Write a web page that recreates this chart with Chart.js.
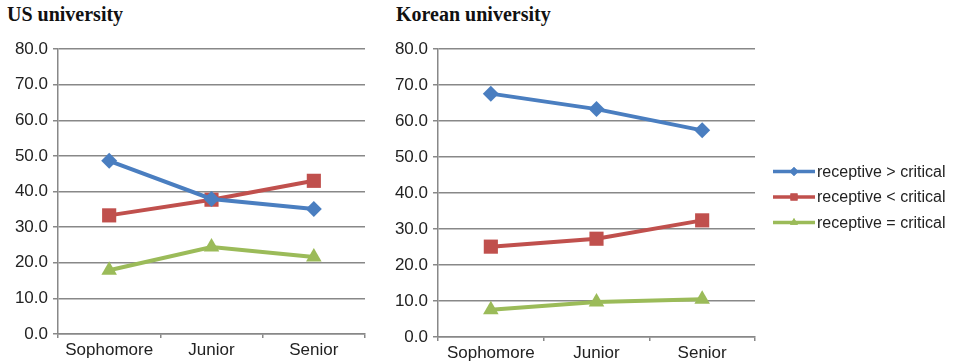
<!DOCTYPE html>
<html>
<head>
<meta charset="utf-8">
<script src="https://cdn.jsdelivr.net/npm/chart.js@4.4.0/dist/chart.umd.min.js"></script>
<style>
  body { margin: 0; background: #fff; width: 954px; height: 361px; position: relative; overflow: hidden; }
  .ttl { position: absolute; top: 3px; font: bold 20px "Liberation Serif", "DejaVu Serif", serif; color: #111; }
  .box { position: absolute; top: 0; height: 361px; }
</style>
</head>
<body>
<div class="ttl" style="left:7px">US university</div>
<div class="ttl" style="left:396px">Korean university</div>
<div class="box" style="left:0; width:376px"><canvas id="usChart"></canvas></div>
<div class="box" style="left:380px; width:574px"><canvas id="krChart"></canvas></div>
<script>
// values
const years = ['Sophomore', 'Junior', 'Senior']
const seriesNames = ['receptive > critical', 'receptive < critical', 'receptive = critical']

const usGreater = [48.6, 37.9, 35.1]
const usLess = [33.3, 37.7, 43.0]
const usEqual = [17.9, 24.4, 21.6]

const krGreater = [67.6, 63.3, 57.4]
const krLess = [25.1, 27.3, 32.4]
const krEqual = [7.6, 9.7, 10.5]

const colors = ['#4a7ec0', '#c0504d', '#9bbb59']
const markers = ['rectRot', 'rect', 'triangle']
const markerSize = [8, 10, 9]

function makeSets(vals) {
    return vals.map((v, i) => ({
        label: seriesNames[i],
        data: v,
        borderColor: colors[i],
        backgroundColor: colors[i],
        borderWidth: 4,
        pointStyle: markers[i],
        pointRadius: markerSize[i],
        pointBorderWidth: 0,
        pointBackgroundColor: colors[i],
        tension: 0
    }))
}

const fontFamily = '"Liberation Sans", Arial, sans-serif'
const tickFont = { family: fontFamily, size: 17 }

// excel style legend to the right of the plot: line with a small marker in the middle
const sideLegend = {
    id: 'sideLegend',
    afterDraw(chart, args, opts) {
        if (!opts.show) return
        const ctx = chart.ctx
        const area = chart.chartArea
        const x0 = area.right + 18
        const midY = (area.top + area.bottom) / 2 + 4
        chart.data.datasets.forEach((ds, i) => {
            const y = midY + (i - 1) * 25.5
            ctx.save()
            ctx.strokeStyle = colors[i]
            ctx.lineWidth = 3.5
            ctx.beginPath()
            ctx.moveTo(x0, y)
            ctx.lineTo(x0 + 42, y)
            ctx.stroke()
            ctx.fillStyle = colors[i]
            Chart.helpers.drawPoint(ctx, { pointStyle: markers[i], radius: i == 1 ? 5 : 4.5, borderWidth: 0 }, x0 + 21, y)
            ctx.fill()
            ctx.fillStyle = '#222'
            ctx.font = '16px ' + fontFamily
            ctx.textBaseline = 'middle'
            ctx.fillText(ds.label, x0 + 44, y + 1)
            ctx.restore()
        })
    }
}

function makeChart(id, vals, showLegend) {
    return new Chart(document.getElementById(id), {
        type: 'line',
        data: { labels: years, datasets: makeSets(vals) },
        plugins: [sideLegend],
        options: {
            responsive: true,
            maintainAspectRatio: false,
            animation: false,
            layout: { padding: { top: 49, right: showLegend ? 199 : 11, left: 0, bottom: 0 } },
            plugins: {
                title: { display: false },
                tooltip: { enabled: false },
                legend: { display: false },
                sideLegend: { show: showLegend }
            },
            scales: {
                x: {
                    offset: true,
                    grid: { offset: true, drawOnChartArea: false, drawTicks: true, tickLength: 4, color: '#888', lineWidth: 1.5 },
                    border: { display: true, color: '#888', width: 1.5 },
                    ticks: { color: '#222', font: tickFont, padding: 2, maxRotation: 0 },
                    afterFit: s => { s.height = showLegend ? 24 : 27 }
                },
                y: {
                    min: 0,
                    max: 80,
                    grid: { color: '#888', lineWidth: 1.5, drawTicks: true, tickLength: 5 },
                    border: { display: true, color: '#888', width: 1.5 },
                    ticks: {
                        stepSize: 10,
                        color: '#222',
                        font: tickFont,
                        padding: 5,
                        callback: v => v.toFixed(1)
                    },
                    afterFit: s => { s.width = 58 }
                }
            }
        }
    })
}

makeChart('usChart', [usGreater, usLess, usEqual], false)
makeChart('krChart', [krGreater, krLess, krEqual], true)
</script>
</body>
</html>
